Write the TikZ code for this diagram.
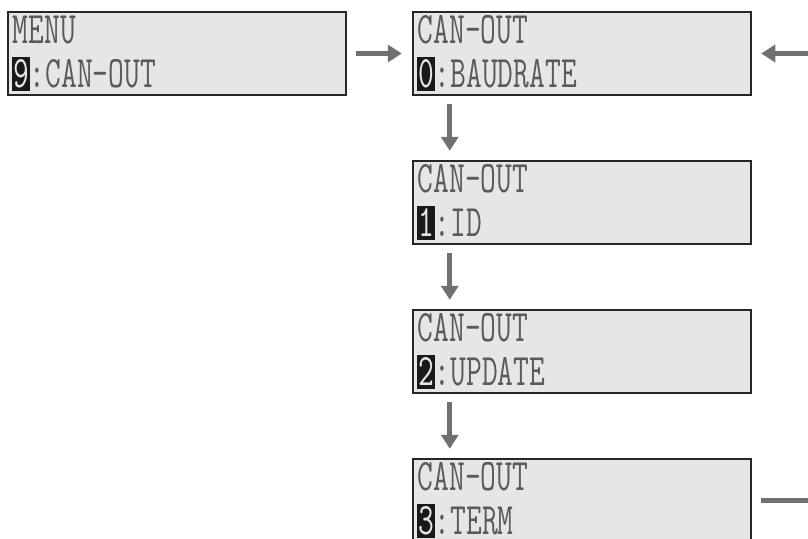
\documentclass[tikz,border=0pt]{standalone}
\usepackage{tikz}
\usetikzlibrary{arrows.meta,positioning}
\definecolor{LcdGray}{HTML}{E6E6E6}
\definecolor{LcdText}{HTML}{5A5A5A}
\definecolor{ArrGray}{HTML}{707070}
\newcommand{\lcdtxt}[1]{\scalebox{0.68}[1]{\fontsize{45}{45}\selectfont\ttfamily #1}}
\begin{document}
\begin{tikzpicture}[x=1pt,y=-1pt,node distance=63.5pt and 64.5pt,
  screen/.style={draw=black!85,line width=2.5pt,fill=LcdGray,minimum width=338pt,minimum height=83pt,inner sep=0pt},
  row/.style={anchor=base west,inner sep=0pt,text=LcdText},
  digit/.style={anchor=north west,fill=black!90,text=LcdGray,minimum width=18pt,minimum height=34pt,inner sep=0pt},
  arr/.style={ArrGray,line width=5pt,-{Triangle[length=14pt,width=17pt]}}]
\useasboundingbox (0,0) rectangle (808,538);
\clip (0,0) rectangle (808,538);
% screens
\node[screen] (menu) at (177,53.5) {};
\node[screen,right=of menu] (baud) {};
\node[screen,below=of baud] (id) {};
\node[screen,below=of id] (upd) {};
\node[screen,below=of upd] (term) {};
% display texts
\foreach \s/\top/\d/\bot in {menu/MENU/9/CAN-OUT,baud/CAN-OUT/0/BAUDRATE,id/CAN-OUT/1/ID,upd/CAN-OUT/2/UPDATE,term/CAN-OUT/3/TERM}{
  \node[row] (\s-top) at ([shift={(6,32.5)}]\s.north west) {\lcdtxt{\top}};
  \node[digit] (\s-dig) at ([shift={(5,46)}]\s.north west) {\lcdtxt{\d}};
  \node[row] (\s-bot) at ([shift={(23,76.5)}]\s.north west) {\lcdtxt{:\bot}};
}
% connectors
\coordinate (inR) at (808,53.5);
\coordinate (outR) at (808,500.5);
\draw[arr] ([xshift=9pt]menu.east) -- ([xshift=-10pt]baud.west);
\draw[arr] (inR) -- ([xshift=9pt]baud.east);
\foreach \a/\b in {baud/id,id/upd,upd/term}
  \draw[arr] ([shift={(38,8)}]\a.south west) -- ([shift={(38,-9)}]\b.north west);
\draw[ArrGray,line width=5pt] ([xshift=9pt]term.east) -- (outR);
\end{tikzpicture}
\end{document}
